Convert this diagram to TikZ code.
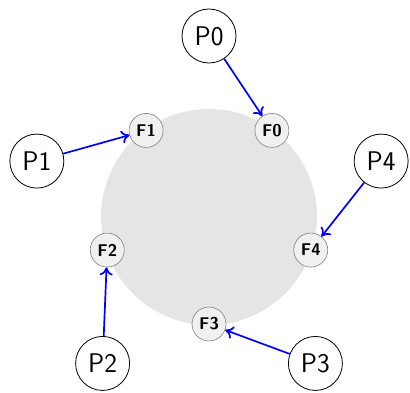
\documentclass[tikz,border=0pt]{standalone}
\usetikzlibrary{arrows.meta,calc}
\begin{document}
\begin{tikzpicture}[x=1pt,y=1pt,
  table/.style={circle,fill=black!10,draw=none,minimum size=216pt},
  fork/.style={circle,draw=black!50,fill=black!6,line width=0.6pt,minimum size=34pt,inner sep=0pt,
    font=\fontsize{17}{19}\selectfont\sffamily\bfseries},
  phil/.style={circle,draw=black,fill=white,line width=0.8pt,minimum size=54pt,inner sep=0pt,
    font=\fontsize{27}{30}\selectfont\sffamily},
  grab/.style={draw=blue,line width=1.7pt,-{Computer Modern Rightarrow[length=8pt,width=13pt]}}]
\useasboundingbox (0,0) rectangle (410,392);
\coordinate (c) at (209,175);
\node[table] (tbl) at (c) {};
% forks on the table edge
\node[fork] (F0) at ($(c)+(54:107)$) {F0};
\node[fork] (F1) at ($(c)+(126:107)$) {F1};
\node[fork] (F2) at ($(c)+(198:107)$) {F2};
\node[fork] (F3) at ($(c)+(270:107)$) {F3};
\node[fork] (F4) at ($(c)+(342:107)$) {F4};
% philosophers around the table
\node[phil] (P0) at ($(c)+(90:181)$) {P0};
\node[phil] (P1) at ($(c)+(162:181)$) {P1};
\node[phil] (P2) at ($(c)+(234:181)$) {P2};
\node[phil] (P3) at ($(c)+(306:181)$) {P3};
\node[phil] (P4) at ($(c)+(18:181)$) {P4};
% each philosopher reaches for a fork
\draw[grab] (P0) -- (F0);
\draw[grab] (P1) -- (F1);
\draw[grab] (P2) -- (F2);
\draw[grab] (P3) -- (F3);
\draw[grab] (P4) -- (F4);
\end{tikzpicture}
\end{document}
